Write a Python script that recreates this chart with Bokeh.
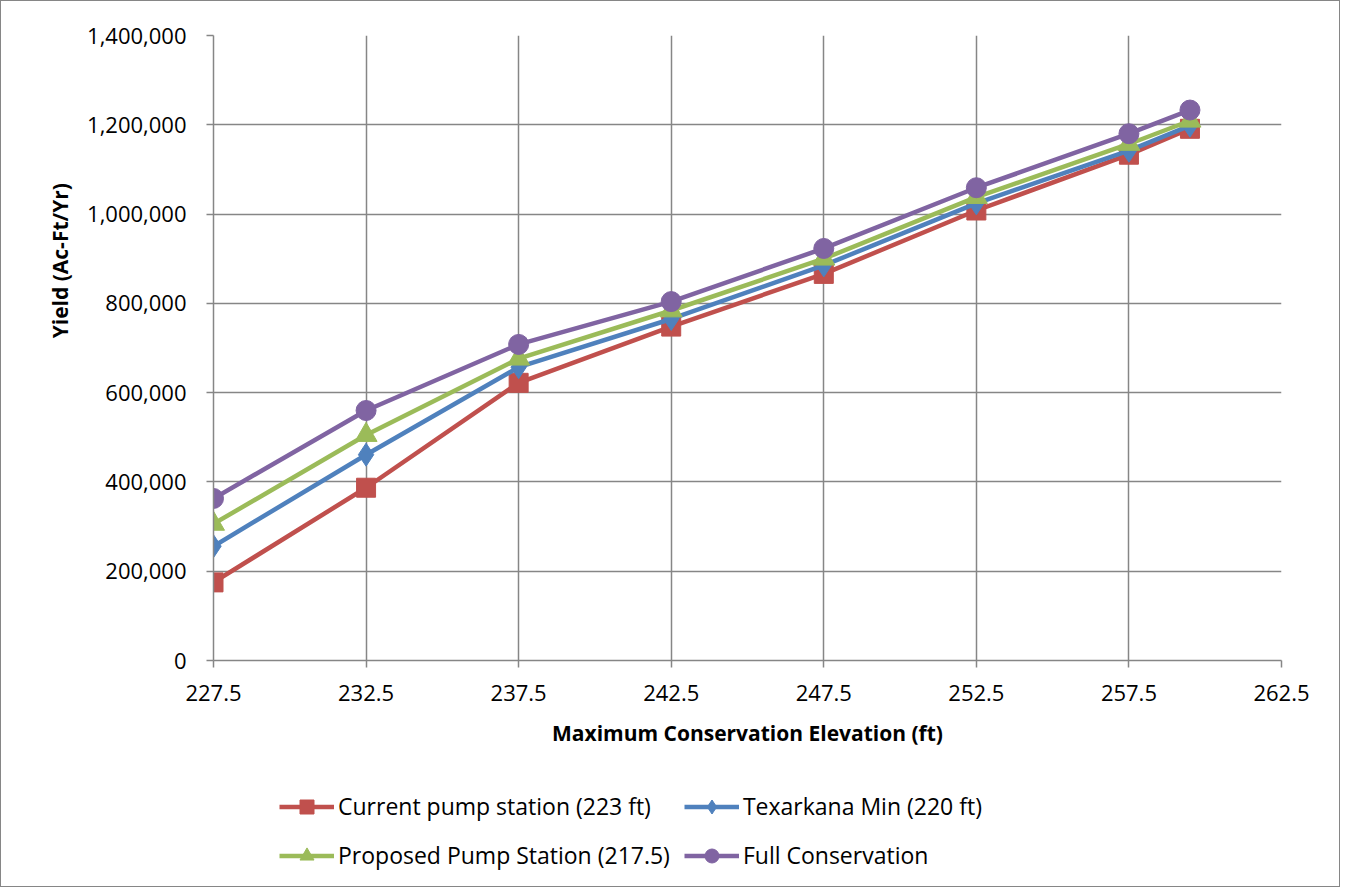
from bokeh.plotting import figure
from bokeh.layouts import column
from bokeh.models import (Range1d, FixedTicker, NumeralTickFormatter, Legend, LegendItem)
from bokeh.embed import file_html
from bokeh.resources import INLINE

# ---- data ----
elevation = [227.5, 232.5, 237.5, 242.5, 247.5, 252.5, 257.5, 259.5]
current_pump = [175000, 387000, 622000, 748000, 866000, 1008000, 1133000, 1191000]
texarkana_min = [256000, 461000, 657000, 765000, 885000, 1024000, 1142000, 1198000]
proposed_pump = [306000, 505000, 676000, 784000, 900000, 1038000, 1157000, 1209000]
full_conservation = [363000, 560000, 708000, 804000, 923000, 1059000, 1180000, 1233000]

series_names = ["Current pump station (223 ft)", "Texarkana Min (220 ft)",
                "Proposed Pump Station (217.5)", "Full Conservation"]
x_ticks = [227.5, 232.5, 237.5, 242.5, 247.5, 252.5, 257.5, 262.5]
y_ticks = [0, 200000, 400000, 600000, 800000, 1000000, 1200000, 1400000]
x_title = "Maximum Conservation Elevation (ft)"
y_title = "Yield (Ac-Ft/Yr)"

FONT = "Open Sans"
GRID = "#868686"

# ---------------- main chart ----------------
p = figure(width=1338, height=759, output_backend="svg", toolbar_location=None,
           x_range=Range1d(227.5, 262.5), y_range=Range1d(0, 1400000),
           min_border_left=212, min_border_top=34, min_border_right=58, min_border_bottom=100)
p.outline_line_color = None
p.background_fill_color = "white"
p.border_fill_color = "white"

for ax, ticks in ((p.xaxis[0], x_ticks), (p.yaxis[0], y_ticks)):
    ax.ticker = FixedTicker(ticks=ticks)
    ax.axis_line_color = GRID
    ax.axis_line_width = 1.5
    ax.major_tick_line_color = GRID
    ax.major_tick_line_width = 1.5
    ax.major_tick_in = 0
    ax.major_tick_out = 7
    ax.minor_tick_line_color = None
    ax.major_label_text_font = FONT
    ax.major_label_text_font_size = "22px"
    ax.major_label_text_color = "black"
    ax.axis_label_text_font = FONT
    ax.axis_label_text_font_size = "21px"
    ax.axis_label_text_font_style = "bold"
    ax.axis_label_text_color = "black"

p.xaxis[0].formatter = NumeralTickFormatter(format="0.0")
p.yaxis[0].formatter = NumeralTickFormatter(format="0,0")
p.xaxis[0].major_label_standoff = 17
p.yaxis[0].major_label_standoff = 20
p.xaxis[0].axis_label = x_title
p.xaxis[0].axis_label_standoff = 15
# leading no-break spaces shift the centred vertical title upward, as in the original
p.yaxis[0].axis_label = "\u00a0" * 32 + y_title
p.yaxis[0].axis_label_standoff = 10

p.xgrid.grid_line_color = GRID
p.ygrid.grid_line_color = GRID
p.xgrid.grid_line_width = 1.5
p.ygrid.grid_line_width = 1.5
p.xgrid.ticker = FixedTicker(ticks=x_ticks)
p.ygrid.ticker = FixedTicker(ticks=y_ticks)

styles = [
    (current_pump, "#C0504D", "square", 19),
    (texarkana_min, "#4F81BD", "diamond", 23),
    (proposed_pump, "#9BBB59", "triangle", 22),
    (full_conservation, "#8064A2", "circle", 20),
]

for vals, color, marker, size in styles:
    p.line(elevation, vals, line_color=color, line_width=4.5)
    p.scatter(elevation, vals, marker=marker, size=size, fill_color=color, line_color=color)

# ---------------- legend strip (same series, legend only) ----------------
q = figure(width=1338, height=126, output_backend="svg", toolbar_location=None,
           x_range=Range1d(0, 1), y_range=Range1d(0, 1),
           min_border=0, min_border_left=0, min_border_right=0,
           min_border_top=0, min_border_bottom=0)
q.axis.visible = False
q.grid.visible = False
q.outline_line_color = None
q.background_fill_color = "white"
q.border_fill_color = "white"

items = []
for name, (vals, color, marker, size) in zip(series_names, styles):
    ln = q.line(elevation, vals, line_color=color, line_width=4.5)
    sc = q.scatter(elevation, vals, marker=marker, size=size, fill_color=color, line_color=color)
    items.append(LegendItem(label=name, renderers=[ln, sc]))

legend = Legend(items=items, location=(66, 13.5), orientation="horizontal", ncols=2,
                glyph_width=55, glyph_height=35, label_height=35, label_standoff=4,
                spacing=14, padding=0, margin=0,
                label_text_font=FONT, label_text_font_size="23px", label_text_color="black",
                border_line_color=None, background_fill_alpha=0)
q.add_layout(legend, "center")

layout = column(p, q, spacing=0)
layout.styles = {"border": "1px solid #868686"}

open("out.html", "w").write(file_html(layout, INLINE))
